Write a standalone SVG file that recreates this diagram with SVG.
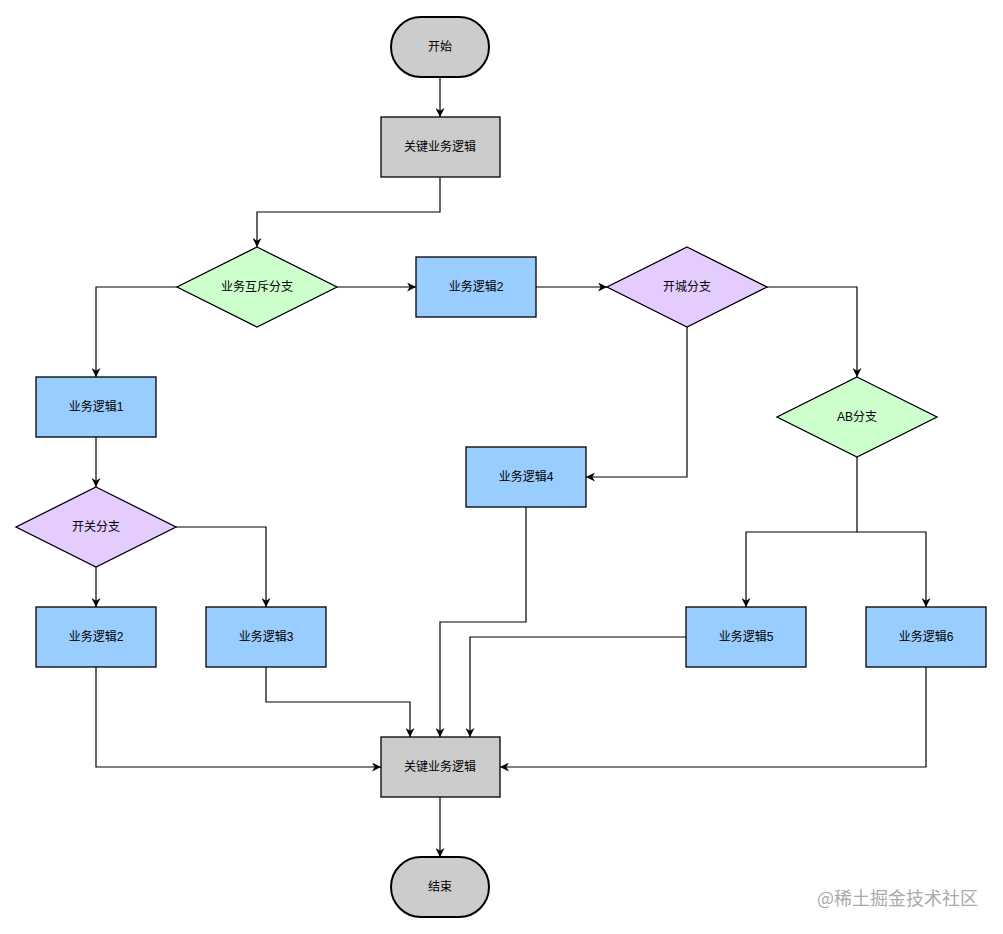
<svg xmlns="http://www.w3.org/2000/svg" width="1003" height="934" viewBox="0 0 1003 934">
<style>
.n{stroke:#000;stroke-width:1.3}
.e{stroke-width:2}
.g{fill:#CCCCCC}
.b{fill:#99CCFF}
.gr{fill:#CCFFCC}
.p{fill:#E5CCFF}
.t{font-family:"Liberation Sans","Noto Sans CJK SC",sans-serif;font-size:12px;fill:#000;text-anchor:middle;dominant-baseline:central}
.c{fill:none;stroke:#000;stroke-width:1.2}
.w{font-family:"Noto Sans CJK SC",sans-serif;font-size:18px;fill:#aaa}
</style>
<defs>
<marker id="a" viewBox="0 0 10 10" refX="10" refY="5" markerWidth="9" markerHeight="9" markerUnits="userSpaceOnUse" orient="auto">
<path d="M0,0 L10,5 L0,10 L3,5 Z" fill="#000"/>
</marker>
</defs>
<rect width="1003" height="934" fill="#fff"/>
<g id="connectors" class="c">
<path d="M440,77 V117" marker-end="url(#a)"/>
<path d="M440,177 V212 H257 V247" marker-end="url(#a)"/>
<path d="M177,287 H96 V377" marker-end="url(#a)"/>
<path d="M337,287 H416" marker-end="url(#a)"/>
<path d="M536,287 H607" marker-end="url(#a)"/>
<path d="M767,287 H857 V377" marker-end="url(#a)"/>
<path d="M687,327 V477 H586" marker-end="url(#a)"/>
<path d="M857,457 V532 H746 V607" marker-end="url(#a)"/>
<path d="M857,532 H926 V607" marker-end="url(#a)"/>
<path d="M96,437 V487" marker-end="url(#a)"/>
<path d="M96,567 V607" marker-end="url(#a)"/>
<path d="M176,527 H266 V607" marker-end="url(#a)"/>
<path d="M96,667 V767 H381" marker-end="url(#a)"/>
<path d="M266,667 V702 H410 V737" marker-end="url(#a)"/>
<path d="M526,507 V622 H440 V737" marker-end="url(#a)"/>
<path d="M686,637 H470 V737" marker-end="url(#a)"/>
<path d="M926,667 V767 H500" marker-end="url(#a)"/>
<path d="M440,797 V857" marker-end="url(#a)"/>
</g>
<g id="start"><rect class="n e g" x="391" y="17" width="98" height="60" rx="30"/><text class="t" x="440" y="47">开始</text></g>
<g id="key1"><rect class="n g" x="381" y="117" width="119" height="60"/><text class="t" x="440" y="147">关键业务逻辑</text></g>
<g id="mutex"><path class="n gr" d="M257,247 L337,287 L257,327 L177,287 Z"/><text class="t" x="257" y="287">业务互斥分支</text></g>
<g id="biz2top"><rect class="n b" x="416" y="257" width="120" height="60"/><text class="t" x="476" y="287">业务逻辑2</text></g>
<g id="city"><path class="n p" d="M687,247 L767,287 L687,327 L607,287 Z"/><text class="t" x="687" y="287">开城分支</text></g>
<g id="ab"><path class="n gr" d="M857,377 L937,417 L857,457 L777,417 Z"/><text class="t" x="857" y="417">AB分支</text></g>
<g id="biz1"><rect class="n b" x="36" y="377" width="120" height="60"/><text class="t" x="96" y="407">业务逻辑1</text></g>
<g id="switch"><path class="n p" d="M96,487 L176,527 L96,567 L16,527 Z"/><text class="t" x="96" y="527">开关分支</text></g>
<g id="biz2"><rect class="n b" x="36" y="607" width="120" height="60"/><text class="t" x="96" y="637">业务逻辑2</text></g>
<g id="biz3"><rect class="n b" x="206" y="607" width="120" height="60"/><text class="t" x="266" y="637">业务逻辑3</text></g>
<g id="biz4"><rect class="n b" x="466" y="447" width="120" height="60"/><text class="t" x="526" y="477">业务逻辑4</text></g>
<g id="biz5"><rect class="n b" x="686" y="607" width="120" height="60"/><text class="t" x="746" y="637">业务逻辑5</text></g>
<g id="biz6"><rect class="n b" x="866" y="607" width="120" height="60"/><text class="t" x="926" y="637">业务逻辑6</text></g>
<g id="key2"><rect class="n g" x="381" y="737" width="119" height="60"/><text class="t" x="440" y="767">关键业务逻辑</text></g>
<g id="end"><rect class="n e g" x="391" y="857" width="98" height="60" rx="30"/><text class="t" x="440" y="887">结束</text></g>
<text class="w" x="817" y="905">@稀土掘金技术社区</text>
</svg>
